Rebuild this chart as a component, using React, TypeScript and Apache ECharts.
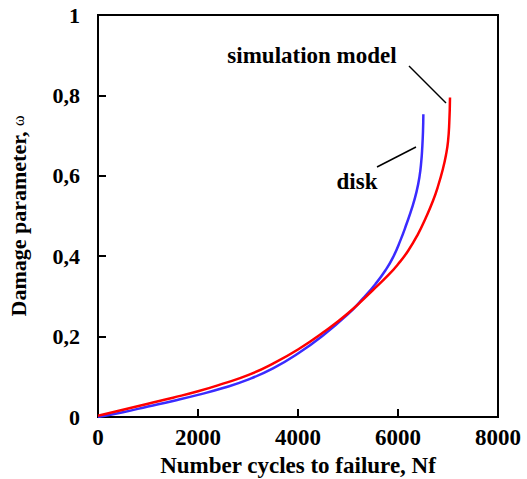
import React, { useEffect, useRef } from "react";
import * as echarts from "echarts";

// Number of cycles (x) and damage parameter ω (y) for the disk test
const diskCycles = [0, 500, 1000, 1500, 2000, 2500, 3000, 3500, 4000, 4500, 5000, 5300, 5550, 5750, 5900, 6050, 6170, 6280, 6370, 6430, 6465, 6485, 6500, 6507];
const diskDamage = [0.0, 0.012, 0.026, 0.04, 0.055, 0.072, 0.093, 0.121, 0.158, 0.203, 0.256, 0.295, 0.331, 0.365, 0.397, 0.44, 0.48, 0.52, 0.56, 0.598, 0.635, 0.67, 0.71, 0.753];

// Simulation model curve
const modelCycles = [0, 500, 1000, 1500, 2000, 2500, 3000, 3500, 4000, 4500, 5000, 5500, 5800, 6000, 6200, 6400, 6550, 6700, 6800, 6900, 6960, 7000, 7025, 7040];
const modelDamage = [0.003, 0.018, 0.033, 0.048, 0.064, 0.083, 0.104, 0.133, 0.168, 0.21, 0.258, 0.316, 0.352, 0.38, 0.413, 0.455, 0.494, 0.538, 0.574, 0.618, 0.652, 0.685, 0.73, 0.795];

const xTicks = [0, 2000, 4000, 6000, 8000];
const yTicks = [0, 0.2, 0.4, 0.6, 0.8, 1];

const FONT = "Liberation Serif";

const pairs = (xs: number[], ys: number[]) => xs.map((x, i) => [x, ys[i]]);

export default function App() {
  const ref = useRef<HTMLDivElement>(null);

  useEffect(() => {
    if (!ref.current) return;
    const chart = echarts.init(ref.current, null, { renderer: "svg" });
    const labelStyle = { color: "#000", fontFamily: FONT, fontWeight: "bold" as const, fontSize: 23 };
    chart.setOption({
      animation: false,
      backgroundColor: "#fff",
      grid: {
        left: 98,
        right: 29,
        top: 15,
        bottom: 62,
        outerBoundsMode: "none",
        containLabel: false,
        show: true,
        borderColor: "#000",
        borderWidth: 2,
      },
      xAxis: {
        type: "value",
        min: xTicks[0],
        max: xTicks[xTicks.length - 1],
        interval: 2000,
        name: "Number cycles to failure, Nf",
        nameLocation: "middle",
        nameGap: 36,
        nameTextStyle: { ...labelStyle, fontSize: 23 },
        axisLine: { lineStyle: { color: "#000", width: 2 } },
        axisTick: { inside: true, length: 8, lineStyle: { color: "#000", width: 2 } },
        axisLabel: { ...labelStyle, margin: 9, formatter: (v: number) => String(v) },
        splitLine: { show: false },
      },
      yAxis: {
        type: "value",
        min: yTicks[0],
        max: yTicks[yTicks.length - 1],
        interval: 0.2,
        name: "{t|Damage parameter, }{w|ω}",
        nameLocation: "middle",
        nameGap: 69,
        nameRotate: 90,
        nameTextStyle: {
          rich: {
            t: { ...labelStyle, fontSize: 22 },
            w: { color: "#000", fontFamily: FONT, fontSize: 16 },
          },
        },
        axisLine: { lineStyle: { color: "#000", width: 2 } },
        axisTick: { inside: true, length: 8, lineStyle: { color: "#000", width: 2 } },
        axisLabel: {
          ...labelStyle,
          fontSize: 22,
          margin: 18,
          formatter: (v: number) =>
            v === 0 ? "0" : v === 1 ? "1" : v.toFixed(1).replace(".", ","),
        },
        splitLine: { show: false },
      },
      series: [
        {
          name: "disk",
          type: "line",
          data: pairs(diskCycles, diskDamage),
          smooth: 0.5,
          showSymbol: false,
          lineStyle: { color: "#3a2bff", width: 2.5 },
          z: 2,
        },
        {
          name: "simulation model",
          type: "line",
          data: pairs(modelCycles, modelDamage),
          smooth: 0.5,
          showSymbol: false,
          lineStyle: { color: "#ff0000", width: 2.5 },
          z: 3,
        },
      ],
      graphic: [
        {
          type: "text",
          x: 312,
          y: 55,
          style: {
            text: "simulation model",
            font: `bold 23px ${FONT}`,
            fill: "#000",
            align: "center",
            verticalAlign: "middle",
          },
        },
        {
          type: "line",
          shape: { x1: 409, y1: 66, x2: 446, y2: 103 },
          style: { stroke: "#000", lineWidth: 1.5 },
        },
        {
          type: "text",
          x: 357,
          y: 181,
          style: {
            text: "disk",
            font: `bold 23px ${FONT}`,
            fill: "#000",
            align: "center",
            verticalAlign: "middle",
          },
        },
        {
          type: "line",
          shape: { x1: 377, y1: 167, x2: 416, y2: 147 },
          style: { stroke: "#000", lineWidth: 1.5 },
        },
      ],
    });
    return () => chart.dispose();
  }, []);

  return (
    <div
      ref={ref}
      style={{ position: "fixed", left: 0, top: 0, width: 527, height: 479 }}
    />
  );
}
